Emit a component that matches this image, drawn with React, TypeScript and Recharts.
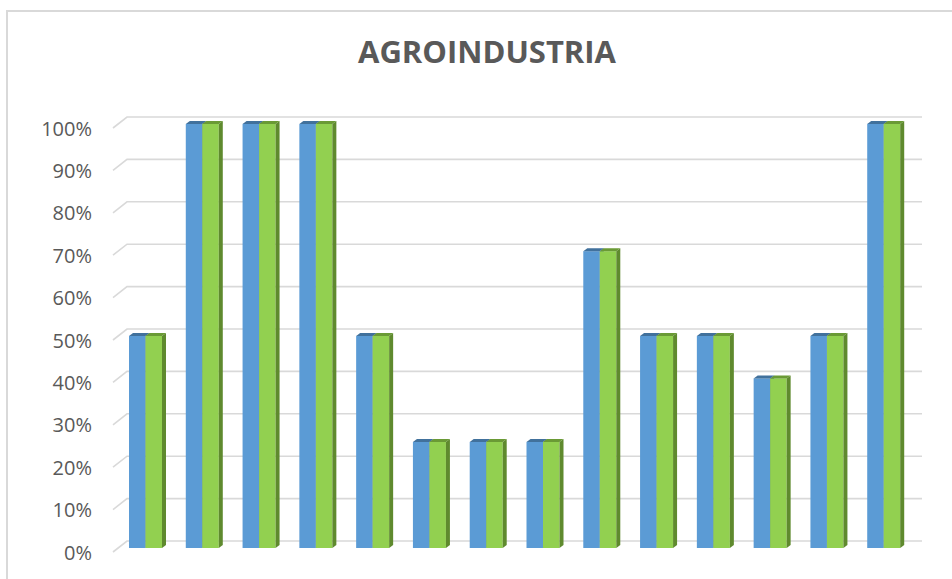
import React from "react";
import { BarChart, Bar, XAxis, YAxis, CartesianGrid } from "recharts";

const categories = ["1", "2", "3", "4", "5", "6", "7", "8", "9", "10", "11", "12", "13", "14"];
const serie1 = [0.5, 1, 1, 1, 0.5, 0.25, 0.25, 0.25, 0.7, 0.5, 0.5, 0.4, 0.5, 1];
const serie2 = [0.5, 1, 1, 1, 0.5, 0.25, 0.25, 0.25, 0.7, 0.5, 0.5, 0.4, 0.5, 1];
const yTicks = [0, 0.1, 0.2, 0.3, 0.4, 0.5, 0.6, 0.7, 0.8, 0.9, 1];

const data = categories.map((name, i) => ({ name, s1: serie1[i], s2: serie2[i] }));

const FONT = "'Open Sans', sans-serif";
const DX = 4;
const DY = 3;

// bar with a small 3d top and right side
const make3dBar = (front: string, top: string, side: string) => (props: any) => {
  const { x, y, width, height } = props;
  if (!height) return null;
  return (
    <g>
      <rect x={x} y={y} width={width} height={height} fill={front} />
      <path
        d={`M${x},${y} L${x + DX},${y - DY} L${x + width + DX},${y - DY} L${x + width},${y} Z`}
        fill={top}
      />
      <path
        d={`M${x + width},${y} L${x + width + DX},${y - DY} L${x + width + DX},${y + height - DY} L${x + width},${y + height} Z`}
        fill={side}
      />
    </g>
  );
};

const gridLine = (props: any) => {
  const { x1, x2, y1, key } = props;
  return (
    <path
      key={key}
      d={`M${x1 - 4},${y1 + 4} L${x1 + 10},${y1 - 7} L${x2 + 10},${y1 - 7}`}
      stroke="#d9d9d9"
      strokeWidth={1.6}
      fill="none"
    />
  );
};

const YTick = (props: any) => {
  const { y, payload } = props;
  return (
    <text
      x={92}
      y={y + 4}
      textAnchor="end"
      dominantBaseline="central"
      fill="#595959"
      fontSize={20}
      fontFamily={FONT}
    >
      {`${Math.round(payload.value * 100)}%`}
    </text>
  );
};

export default function App() {
  return (
    <div
      style={{
        position: "absolute",
        left: 0,
        top: 0,
        width: 952,
        height: 579,
        background: "#fff",
        overflow: "hidden",
      }}
    >
      <div
        style={{
          position: "absolute",
          left: 6,
          top: 10,
          width: 960,
          height: 600,
          borderLeft: "2px solid #d9d9d9",
          borderTop: "2px solid #d9d9d9",
        }}
      />
      <div
        style={{
          position: "absolute",
          left: 0,
          top: 30,
          width: 974,
          textAlign: "center",
          fontFamily: FONT,
          fontWeight: 700,
          fontSize: 31,
          color: "#595959",
        }}
      >
        AGROINDUSTRIA
      </div>
      <div style={{ position: "absolute", left: 0, top: 0 }}>
        <BarChart
          width={952}
          height={579}
          data={data}
          margin={{ top: 124, right: 40, bottom: 31, left: 57 }}
          barGap={0}
          barSize={16.5}
        >
          <CartesianGrid vertical={false} horizontal={gridLine} />
          <XAxis dataKey="name" hide />
          <YAxis
            width={60}
            domain={[0, 1]}
            ticks={yTicks}
            axisLine={false}
            tickLine={false}
            tick={YTick}
            interval={0}
          />
          <Bar
            dataKey="s1"
            isAnimationActive={false}
            shape={make3dBar("#5b9bd5", "#41719c", "#41719c")}
          />
          <Bar
            dataKey="s2"
            isAnimationActive={false}
            shape={make3dBar("#92d050", "#6a9a35", "#5f8a2e")}
          />
        </BarChart>
      </div>
    </div>
  );
}
